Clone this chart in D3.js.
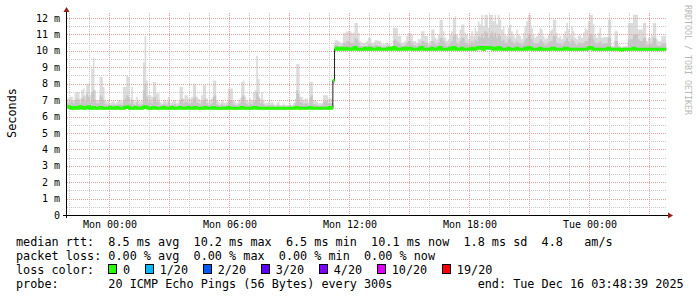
<!DOCTYPE html>
<html>
<head>
<meta charset="utf-8">
<script src="https://cdn.jsdelivr.net/npm/d3@7"></script>
<style>
  html, body { margin: 0; padding: 0; background: #fff; }
  text { font-family: "DejaVu Sans Mono", monospace; }
</style>
</head>
<body>
<div class="chart"></div>
<script>
const width = 697;
const height = 297;
const plot = { left: 67, right: 667, top: 13, bottom: 215 };

// 5 minute steps, 30 hours, ending Tue Dec 16 03:48:39 2025
const startTime = Date.UTC(2025, 11, 14, 21, 48, 39);
const endTime = Date.UTC(2025, 11, 16, 3, 48, 39);
const stepMs = 300 * 1000;

// median rtt (ms), one value per step, 12 per row = 1 hour
const median = [
  6.6,6.6,6.55,6.5,6.5,6.55,6.5,6.5,6.6,6.55,6.5,6.5,
  6.55,6.6,6.5,6.5,6.55,6.5,6.5,6.5,6.55,6.5,6.5,6.5,
  6.5,6.5,6.55,6.5,6.5,6.5,6.55,6.5,6.5,6.5,6.5,6.55,
  6.6,6.55,6.5,6.5,6.5,6.55,6.5,6.5,6.5,6.5,6.55,6.6,
  6.55,6.5,6.5,6.5,6.55,6.5,6.5,6.5,6.5,6.5,6.55,6.5,
  6.5,6.5,6.5,6.55,6.5,6.5,6.5,6.5,6.55,6.5,6.5,6.5,
  6.5,6.55,6.5,6.5,6.5,6.55,6.5,6.5,6.5,6.5,6.5,6.55,
  6.5,6.5,6.5,6.5,6.55,6.5,6.5,6.5,6.5,6.5,6.5,6.5,
  6.5,6.55,6.5,6.5,6.5,6.5,6.5,6.5,6.5,6.55,6.5,6.5,
  6.5,6.5,6.5,6.5,6.55,6.55,6.5,6.5,6.5,6.5,6.5,6.5,
  6.5,6.5,6.5,6.5,6.5,6.5,6.5,6.5,6.5,6.5,6.5,6.5,
  6.5,6.5,6.5,6.5,6.5,6.5,6.55,6.5,6.5,6.5,6.5,6.5,
  6.5,6.5,6.55,6.5,6.5,6.5,6.5,6.5,6.5,6.5,6.5,6.5,
  6.5,6.5,6.55,6.5,8.2,10.1,10.15,10.1,10.1,10.15,10.1,10.1,
  10.15,10.1,10.1,10.1,10.15,10.2,10.1,10.1,10.1,10.1,10.1,10.15,
  10.1,10.1,10.15,10.1,10.1,10.1,10.1,10.15,10.1,10.1,10.1,10.1,
  10.1,10.15,10.1,10.1,10.2,10.15,10.1,10.1,10.1,10.1,10.15,10.1,
  10.1,10.15,10.15,10.1,10.1,10.1,10.1,10.1,10.15,10.2,10.1,10.1,
  10.1,10.1,10.1,10.15,10.1,10.1,10.1,10.15,10.2,10.1,10.1,10.1,
  10.1,10.1,10.15,10.1,10.2,10.15,10.1,10.1,10.1,10.15,10.1,10.1,
  10.1,10.1,10.1,10.15,10.1,10.1,10.15,10.2,10.15,10.2,10.1,10.15,
  10.2,10.15,10.2,10.15,10.1,10.15,10.1,10.2,10.15,10.1,10.1,10.1,
  10.1,10.15,10.1,10.1,10.1,10.1,10.15,10.1,10.1,10.1,10.1,10.15,
  10.1,10.2,10.15,10.1,10.1,10.1,10.1,10.1,10.15,10.1,10.1,10.1,
  10.1,10.1,10.1,10.15,10.15,10.1,10.1,10.1,10.1,10.1,10.1,10.15,
  10.15,10.1,10.1,10.1,10.1,10.1,10.1,10.1,10.1,10.1,10.1,10.1,
  10.1,10.15,10.2,10.15,10.1,10.1,10.1,10.1,10.1,10.1,10.1,10.1,
  10.1,10.15,10.1,10.1,10.1,10.1,10.1,10.1,10.1,10.05,10.1,10.1,
  10.1,10.1,10.1,10.1,10.15,10.1,10.1,10.1,10.1,10.1,10.1,10.1,
  10.1,10.1,10.1,10.1,10.1,10.1,10.1,10.1,10.1,10.1,10.1,10.1
];

// fastest ping of each step (ms)
const smokeMin = [
  6.45,6.5,6.45,6.4,6.42,6.45,6.42,6.4,6.5,6.45,6.42,6.4,
  6.45,6.5,6.42,6.4,6.45,6.42,6.4,6.42,6.45,6.4,6.42,6.42,
  6.42,6.4,6.45,6.42,6.42,6.4,6.45,6.42,6.4,6.42,6.42,6.45,
  6.5,6.45,6.4,6.42,6.4,6.45,6.42,6.42,6.4,6.42,6.45,6.5,
  6.45,6.42,6.4,6.42,6.45,6.42,6.4,6.42,6.42,6.4,6.45,6.42,
  6.42,6.4,6.42,6.45,6.42,6.4,6.42,6.42,6.45,6.42,6.4,6.42,
  6.42,6.45,6.42,6.4,6.42,6.45,6.42,6.4,6.42,6.42,6.4,6.45,
  6.42,6.4,6.42,6.42,6.45,6.42,6.4,6.42,6.42,6.4,6.42,6.42,
  6.4,6.45,6.42,6.42,6.4,6.42,6.42,6.4,6.42,6.45,6.42,6.4,
  6.42,6.42,6.4,6.42,6.45,6.45,6.42,6.4,6.42,6.42,6.4,6.42,
  6.42,6.4,6.42,6.42,6.4,6.42,6.42,6.4,6.42,6.42,6.4,6.42,
  6.42,6.4,6.42,6.42,6.4,6.42,6.45,6.42,6.4,6.42,6.42,6.4,
  6.42,6.4,6.45,6.42,6.4,6.42,6.42,6.4,6.42,6.42,6.4,6.42,
  6.42,6.4,6.45,6.42,8.0,10.02,10.05,10.02,10.0,10.05,10.02,10.02,
  10.05,10.02,10.0,10.02,10.05,10.1,10.02,10.0,10.02,10.02,10.0,10.05,
  10.02,10.0,10.05,10.02,10.0,10.02,10.02,10.05,10.02,10.0,10.02,10.02,
  10.0,10.05,10.02,10.02,10.1,10.05,10.02,10.0,10.02,10.02,10.05,10.02,
  10.02,10.05,10.05,10.02,10.0,10.02,10.02,10.0,10.05,10.1,10.02,10.0,
  10.02,10.0,10.02,10.05,10.02,10.0,10.02,10.05,10.1,10.02,10.0,10.02,
  10.02,10.0,10.05,10.02,10.1,10.05,10.02,10.0,10.02,10.05,10.02,10.0,
  10.02,10.0,10.02,10.05,10.02,10.0,10.05,10.1,10.05,10.1,10.02,10.05,
  10.1,10.05,10.1,10.05,10.02,10.05,10.02,10.1,10.05,10.02,10.0,10.02,
  10.02,10.05,10.02,10.0,10.02,10.02,10.05,10.02,10.0,10.02,10.02,10.05,
  10.02,10.1,10.05,10.02,10.0,10.02,10.02,10.0,10.05,10.02,10.0,10.02,
  10.02,10.0,10.02,10.05,10.05,10.02,10.0,10.02,10.02,10.0,10.02,10.05,
  10.05,10.02,10.0,10.02,10.02,10.0,10.02,10.02,10.0,10.02,10.02,10.0,
  10.02,10.05,10.1,10.05,10.02,10.0,10.02,10.02,10.0,10.02,10.02,10.0,
  10.02,10.05,10.02,10.0,10.02,10.02,10.0,10.02,10.02,9.98,10.02,10.0,
  10.02,10.0,10.02,10.02,10.05,10.02,10.0,10.02,10.02,10.0,10.02,10.02,
  10.0,10.02,10.02,10.0,10.02,10.02,10.0,10.02,10.02,10.0,10.02,10.02
];

// upper edge of the dense (darker) part of the smoke (ms)
const smokeMid = [
  6.85,6.8,6.9,6.95,6.8,7.0,7.1,7.0,6.8,7.1,7.2,6.9,
  7.4,7.2,6.9,7.5,7.6,7.0,6.8,6.8,7.3,7.2,7.0,6.75,
  6.7,6.75,6.7,6.7,6.75,6.7,6.7,6.75,6.75,6.7,7.0,7.1,
  7.3,7.2,6.8,7.0,6.75,6.7,6.9,6.75,6.7,6.75,7.6,8.0,
  7.2,6.9,6.9,6.8,7.1,7.2,6.9,6.9,6.7,6.7,6.75,6.75,
  6.7,6.9,6.65,6.7,6.75,6.75,6.65,6.7,7.0,7.1,6.8,6.9,
  6.9,6.8,6.8,6.85,7.1,7.2,6.85,6.8,6.75,6.9,7.0,7.1,
  6.8,6.7,6.75,6.8,7.2,7.3,6.75,6.7,6.65,6.75,6.7,6.65,
  6.7,6.95,7.0,6.95,6.75,6.7,6.65,6.75,6.8,7.2,7.3,6.85,
  6.75,6.7,6.8,6.75,6.9,7.0,7.5,7.2,6.8,6.9,6.75,6.65,
  6.65,6.7,6.65,6.7,6.65,6.6,6.65,6.7,6.6,6.6,6.65,6.6,
  6.6,6.6,6.65,6.6,6.65,6.8,7.6,7.4,6.9,6.85,6.75,6.8,
  6.8,6.7,7.2,7.3,6.75,6.75,6.7,6.65,6.65,6.65,6.9,6.95,
  6.95,6.8,6.8,6.8,8.2,10.4,10.35,10.3,10.3,10.3,10.5,10.5,
  10.6,10.6,10.5,10.5,10.5,10.8,10.7,10.5,10.3,10.3,10.25,10.3,
  10.3,10.4,10.4,10.3,10.3,10.35,10.35,10.3,10.3,10.25,10.25,10.25,
  10.3,10.3,10.25,10.2,10.6,10.7,10.6,10.5,10.4,10.3,10.3,10.35,
  10.5,10.6,10.6,10.5,10.35,10.35,10.3,10.4,10.4,10.6,10.6,10.5,
  10.5,10.3,10.35,10.6,10.6,10.4,10.35,10.5,10.8,10.8,10.6,10.4,
  10.3,10.35,10.5,10.6,10.9,11.0,10.5,10.4,10.6,10.8,10.8,10.5,
  10.5,10.35,10.45,10.6,10.5,10.7,10.6,10.9,10.8,11.0,10.8,11.2,
  11.1,10.8,11.0,11.2,10.9,11.1,10.8,11.0,10.9,10.6,10.7,10.5,
  10.5,10.7,10.8,10.6,10.5,10.4,10.6,10.5,10.45,10.35,10.5,10.7,
  10.8,11.0,11.0,10.7,10.5,10.4,10.45,10.5,10.7,10.6,10.45,10.35,
  10.4,10.5,10.6,10.6,10.9,10.9,10.5,10.4,10.45,10.35,10.5,10.6,
  10.8,10.6,10.5,10.7,10.6,10.4,10.35,10.45,10.5,10.4,10.5,10.6,
  10.6,10.8,11.0,11.0,10.7,10.5,10.4,10.5,10.6,10.4,10.45,10.45,
  10.45,10.8,10.8,10.2,10.2,10.6,10.6,10.25,10.2,10.15,10.2,10.2,
  10.2,10.7,10.7,10.7,11.0,11.0,11.0,10.7,10.6,10.6,10.8,10.8,
  10.35,10.4,10.4,10.5,10.8,10.8,10.35,10.3,10.3,10.45,10.45,10.45
];

// slowest ping of each step (ms)
const smokeMax = [
  7.1,7.1,7.2,7.2,7.0,7.4,7.5,7.5,7.1,7.6,7.7,7.3,
  8.0,8.0,7.3,8.9,9.6,7.6,7.0,7.0,8.4,8.4,7.8,7.0,
  6.9,7.0,6.8,6.9,7.0,6.8,6.9,7.0,7.0,6.9,7.8,7.8,
  8.5,8.4,7.1,7.8,7.0,6.9,7.2,7.0,6.9,7.0,9.3,10.9,
  8.2,7.3,7.3,7.2,8.1,8.1,7.4,7.4,6.9,6.8,7.0,7.0,
  6.9,7.2,6.8,6.9,7.0,7.0,6.8,6.9,7.8,7.8,7.1,7.3,
  7.3,7.1,7.1,7.2,8.0,8.0,7.2,7.1,7.0,7.3,7.9,7.9,
  7.1,6.9,7.0,7.1,8.2,8.2,7.0,6.9,6.8,7.0,6.9,6.8,
  6.9,7.7,7.7,7.7,7.0,6.9,6.8,7.0,7.1,8.1,8.2,7.2,
  7.0,6.9,7.1,7.0,7.5,7.6,9.7,8.3,7.1,7.5,7.0,6.8,
  6.8,6.9,6.8,6.9,6.8,6.7,6.8,6.9,6.7,6.7,6.8,6.7,
  6.7,6.7,6.8,6.7,6.8,7.1,9.2,9.2,7.2,7.2,7.0,7.1,
  7.1,6.9,8.1,8.1,7.0,7.0,6.9,6.8,6.8,6.8,7.3,7.3,
  7.3,7.1,7.1,7.1,8.3,10.65,10.65,10.6,10.5,10.5,11.1,11.1,
  11.2,11.2,11.2,11.1,11.1,11.7,11.7,11.1,10.6,10.5,10.5,10.5,
  10.6,10.8,10.8,10.5,10.5,10.65,10.65,10.6,10.6,10.4,10.4,10.4,
  10.5,10.5,10.4,10.3,11.4,11.4,11.4,10.9,10.9,10.5,10.5,10.6,
  10.9,11.1,11.1,11.0,10.6,10.6,10.5,10.7,10.7,11.2,11.2,10.9,
  10.9,10.5,10.6,11.3,11.3,10.8,10.7,11.0,11.9,11.9,11.2,10.8,
  10.6,10.7,11.0,11.2,12.0,12.1,11.0,10.8,11.3,11.6,11.6,11.1,
  11.0,10.7,10.9,11.2,10.9,11.4,11.2,11.8,11.6,12.2,11.5,12.2,
  12.2,11.4,12.2,12.2,11.8,12.2,11.6,12.2,11.9,11.3,11.5,11.0,
  10.9,11.4,11.6,11.2,11.0,10.8,11.3,11.0,10.9,10.7,11.1,11.5,
  11.8,12.2,12.2,11.4,11.0,10.8,10.9,11.1,11.4,11.3,10.9,10.7,
  10.8,11.0,11.2,11.3,11.9,11.9,11.1,10.8,10.9,10.7,11.0,11.2,
  11.7,11.3,11.0,11.5,11.2,10.8,10.7,10.9,11.0,10.8,11.1,11.4,
  11.3,11.8,12.2,12.2,11.6,11.0,10.8,11.1,11.4,10.8,10.85,10.85,
  10.85,11.9,11.9,10.3,10.3,11.2,11.2,10.4,10.3,10.2,10.3,10.3,
  10.3,11.7,11.7,11.7,12.2,12.2,12.2,11.3,11.3,11.3,11.7,11.7,
  10.6,10.8,10.8,10.95,11.7,11.7,10.7,10.6,10.6,10.9,10.9,10.9
];

const yTicks = [0, 1, 2, 3, 4, 5, 6, 7, 8, 9, 10, 11, 12];

const legendLines = [
  "median rtt:  8.5 ms avg  10.2 ms max  6.5 ms min  10.1 ms now  1.8 ms sd  4.8   am/s",
  "packet loss: 0.00 % avg  0.00 % max  0.00 % min  0.00 % now",
  "loss color:",
  "probe:       20 ICMP Echo Pings (56 Bytes) every 300s            end: Tue Dec 16 03:48:39 2025"
];
const lossLabels = ["0", "1/20", "2/20", "3/20", "4/20", "10/20", "19/20"];
const lossColors = ["#26ff00", "#00b8ff", "#0059ff", "#5e00ff", "#7e00ff", "#dd00ff", "#ff0000"];

// ------------------------------------------------------------------

const svg = d3.select(".chart")
  .append("svg")
  .attr("width", width)
  .attr("height", height)
  .attr("viewBox", `0 0 ${width} ${height}`);

svg.append("rect").attr("width", width).attr("height", height).attr("fill", "#fff");

const x = d3.scaleUtc()
  .domain([new Date(startTime), new Date(endTime)])
  .range([66.2, 666.2]);

const y = d3.scaleLinear()
  .domain([0, 12])
  .range([215, 18]);

// one row per step, plus a closing row so the last step gets its width
const rows = d3.range(median.length + 1).map(i => {
  const k = Math.min(i, median.length - 1);
  return {
    t: new Date(startTime + i * stepMs),
    med: median[k], lo: smokeMin[k], mid: smokeMid[k], hi: smokeMax[k]
  };
});

// grid
const gridG = svg.append("g").attr("shape-rendering", "crispEdges");

const hourTicks = x.ticks(d3.utcHour.every(1));
const minorX = hourTicks.filter(d => d.getUTCHours() % 3 !== 0);
const majorX = hourTicks.filter(d => d.getUTCHours() % 3 === 0);
const labelX = hourTicks.filter(d => d.getUTCHours() % 6 === 0);

// smoke (drawn under the grid dots)
const plotG = svg.append("g");

plotG.append("path")
  .datum(rows)
  .attr("fill", "#dcdcdc")
  .attr("d", d3.area().curve(d3.curveStepAfter)
    .x(d => x(d.t)).y0(d => y(d.lo)).y1(d => y(d.hi)));

plotG.append("path")
  .datum(rows)
  .attr("fill", "#c6c6c6")
  .attr("d", d3.area().curve(d3.curveStepAfter)
    .x(d => x(d.t)).y0(d => y(d.lo)).y1(d => y(d.mid)));

gridG.raise();

gridG.selectAll(".minor-y")
  .data(d3.range(0.5, 12, 1))
  .enter().append("line")
  .attr("x1", plot.left).attr("x2", plot.right)
  .attr("y1", d => Math.round(y(d)) + 0.5).attr("y2", d => Math.round(y(d)) + 0.5)
  .attr("stroke", "#c8c8c8").attr("stroke-dasharray", "1,1");

gridG.selectAll(".minor-x")
  .data(minorX)
  .enter().append("line")
  .attr("x1", d => Math.round(x(d)) - 0.5).attr("x2", d => Math.round(x(d)) - 0.5)
  .attr("y1", plot.top).attr("y2", plot.bottom)
  .attr("stroke", "#c8c8c8").attr("stroke-dasharray", "1,1");

gridG.selectAll(".major-y")
  .data(yTicks.filter(d => d > 0))
  .enter().append("line")
  .attr("x1", plot.left).attr("x2", plot.right)
  .attr("y1", d => Math.round(y(d)) + 0.5).attr("y2", d => Math.round(y(d)) + 0.5)
  .attr("stroke", "#e8a0a0").attr("stroke-dasharray", "1,1");

gridG.selectAll(".major-x")
  .data(majorX)
  .enter().append("line")
  .attr("x1", d => Math.round(x(d)) - 0.5).attr("x2", d => Math.round(x(d)) - 0.5)
  .attr("y1", plot.top).attr("y2", plot.bottom)
  .attr("stroke", "#e8a0a0").attr("stroke-dasharray", "1,1");

// median: thin dark line, then the loss-coloured thick line
svg.append("path")
  .datum(rows)
  .attr("fill", "none")
  .attr("stroke", "#202020")
  .attr("stroke-width", 1)
  .attr("d", d3.line().curve(d3.curveStepAfter).x(d => x(d.t)).y(d => y(d.med)));

// break the green line where the median jumps
const runs = [];
let run = [rows[0]];
for (let i = 1; i < rows.length; i++) {
  if (Math.abs(rows[i].med - rows[i - 1].med) > 1) {
    run.push({ t: rows[i].t, med: rows[i - 1].med });
    runs.push(run);
    run = [];
  }
  run.push(rows[i]);
}
runs.push(run);

svg.selectAll(".median-run")
  .data(runs)
  .enter().append("path")
  .attr("fill", "none")
  .attr("stroke", lossColors[0])
  .attr("stroke-width", 3)
  .attr("d", d3.line().curve(d3.curveStepAfter).x(d => x(d.t)).y(d => y(d.med)));

// axes
const axisG = svg.append("g").attr("shape-rendering", "crispEdges");
axisG.append("line")
  .attr("x1", 63).attr("x2", 669).attr("y1", 215.5).attr("y2", 215.5)
  .attr("stroke", "#000");
axisG.append("line")
  .attr("x1", 66.5).attr("x2", 66.5).attr("y1", 218).attr("y2", 11)
  .attr("stroke", "#000");

svg.append("path")
  .attr("d", "M668,212.5 L673,215.5 L668,218.5 Z")
  .attr("fill", "#9b1c1c");
svg.append("path")
  .attr("d", "M63.5,12 L66.5,7 L69.5,12 Z")
  .attr("fill", "#9b1c1c");

// tick labels
svg.selectAll(".ylabel")
  .data(yTicks)
  .enter().append("text")
  .attr("x", 60)
  .attr("y", d => y(d) + 3.6)
  .attr("text-anchor", "end")
  .attr("font-size", "10px")
  .attr("fill", "#000")
  .style("white-space", "pre")
  .text(d => d === 0 ? "0" : `${d} m`);

const fmt = d3.utcFormat("%a %H:%M");
svg.selectAll(".xlabel")
  .data(labelX)
  .enter().append("text")
  .attr("x", d => x(d))
  .attr("y", 228)
  .attr("text-anchor", "middle")
  .attr("font-size", "10px")
  .attr("fill", "#000")
  .text(d => fmt(d));

// axis title
svg.append("text")
  .attr("transform", "translate(15.5,113) rotate(-90)")
  .attr("text-anchor", "middle")
  .attr("font-size", "11.85px")
  .attr("fill", "#000")
  .text("Seconds");

// watermark
svg.append("text")
  .attr("transform", "translate(684.5,5) rotate(90)")
  .attr("font-size", "8.3px")
  .attr("fill", "#b8b8b8")
  .text("RRDTOOL / TOBI OETIKER");

// legend
const legendG = svg.append("g");
legendG.selectAll("text")
  .data(legendLines)
  .enter().append("text")
  .attr("x", 16)
  .attr("y", (d, i) => 245.5 + i * 14)
  .attr("font-size", "11.8px")
  .attr("fill", "#000")
  .attr("xml:space", "preserve")
  .style("white-space", "pre")
  .text(d => d);

let lx = 108;
lossLabels.forEach((label, i) => {
  legendG.append("rect")
    .attr("x", lx + 0.5).attr("y", 264.5)
    .attr("width", 8).attr("height", 9)
    .attr("fill", lossColors[i])
    .attr("stroke", "#000")
    .attr("shape-rendering", "crispEdges");
  legendG.append("text")
    .attr("x", lx + 15)
    .attr("y", 273.5)
    .attr("font-size", "11.8px")
    .attr("fill", "#000")
    .text(label);
  lx = lx + 15 + label.length * 7.13 + 14.5;
});
</script>
</body>
</html>
